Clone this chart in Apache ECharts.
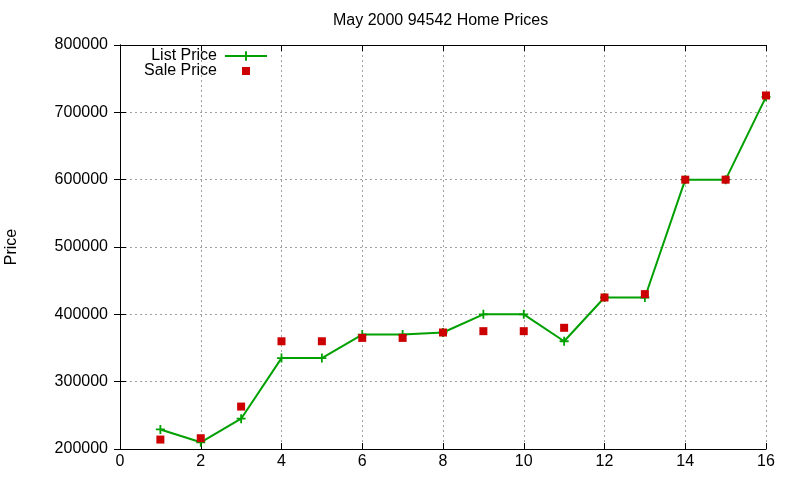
<!DOCTYPE html>
<html>
<head>
<meta charset="utf-8">
<script src="https://cdn.jsdelivr.net/npm/echarts@6/dist/echarts.min.js"></script>
<style>
  html, body { margin: 0; padding: 0; background: #fff; }
  #chart { width: 800px; height: 480px; }
</style>
</head>
<body>
<div id="chart"></div>
<script>
// house number (x) and prices
var houses = [1, 2, 3, 4, 5, 6, 7, 8, 9, 10, 11, 12, 13, 14, 15, 16];
var listPrice = [229000, 210000, 245000, 335000, 335000, 370000, 370000, 373000, 400000, 400000, 360000, 425000, 425000, 600000, 600000, 723000];
var salePrice = [214000, 216000, 263000, 360000, 360000, 365000, 365000, 373000, 375000, 375000, 380000, 425000, 430000, 600000, 600000, 725000];

var green = '#00a000';
var red = '#cc0000';
var font = 'Liberation Sans, Arial, sans-serif';
var crossPath = 'path://M4,0H6V4H10V6H6V10H4V6H0V4H4Z';

function pairs(xs, ys) {
    return xs.map(function (x, i) { return [x, ys[i]]; });
}

var chart = echarts.init(document.getElementById('chart'));

var gridLine = { show: true, lineStyle: { color: '#a0a0a0', type: [2, 3], width: 1 } };
var axisLine = { show: true, lineStyle: { color: '#000', width: 1 } };
var tick = { show: true, inside: true, length: 6, lineStyle: { color: '#000' } };

var option = {
    animation: false,
    backgroundColor: '#fff',
    title: {
        text: 'May 2000 94542 Home Prices',
        left: 328,
        top: 8,
        textStyle: { fontFamily: font, fontSize: 16, fontWeight: 'normal', color: '#000' }
    },
    legend: [{
        data: ['List Price'],
        right: 527,
        top: 43,
        orient: 'vertical',
        align: 'right',
        itemWidth: 42,
        itemHeight: 12,
        selectedMode: false,
        textStyle: { fontFamily: font, fontSize: 16, color: '#000', padding: [0, 3, 0, 0] }
    }, {
        data: [{ name: 'Sale Price', icon: 'rect' }],
        right: 545,
        top: 58,
        orient: 'vertical',
        align: 'right',
        itemWidth: 8,
        itemHeight: 8,
        selectedMode: false,
        textStyle: { fontFamily: font, fontSize: 16, color: '#000', padding: [0, 20, 0, 0] }
    }],
    grid: { left: 120, right: 34, top: 45, bottom: 31, outerBoundsMode: 'none', containLabel: false },
    xAxis: [{
        type: 'value',
        min: 0, max: 16, interval: 2,
        axisLine: axisLine,
        axisTick: tick,
        splitLine: gridLine,
        axisLabel: { color: '#000', fontFamily: font, fontSize: 16, margin: 5 }
    }, {
        type: 'value',
        position: 'top',
        min: 0, max: 16, interval: 2,
        axisLine: axisLine,
        axisTick: tick,
        splitLine: { show: false },
        axisLabel: { show: false }
    }],
    yAxis: [{
        type: 'value',
        min: 200000, max: 800000, interval: 100000,
        name: 'Price',
        nameLocation: 'middle',
        nameRotate: 90,
        nameGap: 100,
        nameTextStyle: { fontFamily: font, fontSize: 16, color: '#000' },
        axisLine: axisLine,
        axisTick: tick,
        splitLine: gridLine,
        axisLabel: {
            color: '#000', fontFamily: font, fontSize: 16, margin: 12,
            formatter: function (v) { return String(v); }
        }
    }, {
        type: 'value',
        position: 'right',
        min: 200000, max: 800000, interval: 100000,
        axisLine: axisLine,
        axisTick: tick,
        splitLine: { show: false },
        axisLabel: { show: false }
    }],
    series: [{
        name: 'List Price',
        type: 'line',
        data: pairs(houses, listPrice),
        symbol: crossPath,
        symbolSize: 9,
        showAllSymbol: true,
        color: green,
        lineStyle: { color: green, width: 2 },
        itemStyle: { color: green },
        z: 2
    }, {
        name: 'Sale Price',
        type: 'scatter',
        data: pairs(houses, salePrice),
        symbol: 'rect',
        symbolSize: 8,
        color: red,
        itemStyle: { color: red, opacity: 1 },
        z: 3
    }]
};

chart.setOption(option);
</script>
</body>
</html>
